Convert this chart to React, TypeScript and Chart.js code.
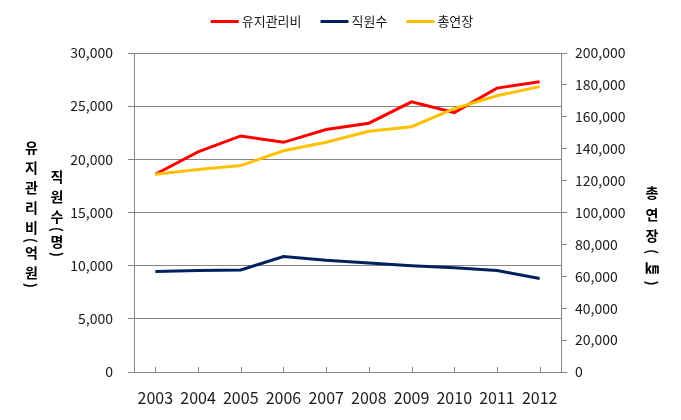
import React, { useEffect, useRef } from "react";
import { Chart, registerables } from "chart.js";

Chart.register(...registerables);

const categories = ["2003", "2004", "2005", "2006", "2007", "2008", "2009", "2010", "2011", "2012"];
const maintenanceCost = [18600, 20700, 22200, 21600, 22800, 23400, 25400, 24400, 26700, 27300];
const staffCount = [9450, 9550, 9600, 10850, 10500, 10250, 10000, 9800, 9550, 8800];
const totalLength = [124000, 127000, 129400, 138700, 144000, 150900, 153800, 165100, 173200, 178900];
const seriesNames = ["유지관리비", "직원수", "총연장"];
const seriesColors = ["#FF0000", "#002060", "#FFC000"];
const leftTitleA = ["유", "지", "관", "리", "비", "(", "억", "원", ")"];
const leftTitleB = ["직", "원", "수", "(", "명", ")"];
const rightTitle = ["총", "연", "장", "(", "㎞", ")"];

const FONT = "'Noto Sans CJK KR', 'Noto Sans', sans-serif";
const GRID = "#868686";
const TEXT = "#1a1a1a";

function drawVertical(ctx: CanvasRenderingContext2D, chars: string[], x: number, startY: number, step: number, parenStep: number) {
  let y = startY;
  let prev = 0;
  chars.forEach((c, i) => {
    const isParen = c === "(" || c === ")";
    const adv = isParen ? parenStep : step;
    if (i > 0) y += (prev + adv) / 2;
    if (isParen) {
      ctx.save();
      ctx.translate(x, y);
      ctx.rotate(Math.PI / 2);
      ctx.fillText(c, 0, 0);
      ctx.restore();
    } else {
      ctx.fillText(c, x, y);
    }
    prev = adv;
  });
}

const decorPlugin = {
  id: "decor",
  beforeDraw(chart: any) {
    const ctx = chart.ctx;
    ctx.save();
    ctx.fillStyle = "#ffffff";
    ctx.fillRect(0, 0, chart.width, chart.height);
    ctx.restore();
  },
  afterDraw(chart: any) {
    const ctx: CanvasRenderingContext2D = chart.ctx;
    const area = chart.chartArea;
    const xs = chart.scales.x;
    ctx.save();
    // inner x tick marks
    ctx.strokeStyle = GRID;
    ctx.lineWidth = 1;
    categories.forEach((_, i) => {
      const px = Math.round(xs.getPixelForTick(i)) + 0.5;
      ctx.beginPath();
      ctx.moveTo(px, area.bottom);
      ctx.lineTo(px, area.bottom - 5);
      ctx.stroke();
    });
    // vertical titles
    ctx.fillStyle = "#000";
    ctx.font = `bold 14px ${FONT}`;
    ctx.textAlign = "center";
    ctx.textBaseline = "middle";
    drawVertical(ctx, leftTitleA, 31.5, 148, 20, 5);
    drawVertical(ctx, leftTitleB, 57, 177, 20, 5);
    drawVertical(ctx, rightTitle, 652, 193, 21.5, 10);
    // legend
    ctx.font = `13px ${FONT}`;
    ctx.textAlign = "left";
    const lineLen = 28;
    const gapText = 3;
    const gapItem = 19;
    const widths = seriesNames.map((n) => lineLen + gapText + ctx.measureText(n).width);
    const total = widths.reduce((a, b) => a + b, 0) + gapItem * (seriesNames.length - 1);
    let x = 342 - total / 2;
    const ly = 21.5;
    seriesNames.forEach((n, i) => {
      ctx.strokeStyle = seriesColors[i];
      ctx.lineWidth = 3;
      ctx.beginPath();
      ctx.moveTo(x, ly);
      ctx.lineTo(x + lineLen, ly);
      ctx.stroke();
      ctx.fillStyle = TEXT;
      ctx.fillText(n, x + lineLen + gapText, ly);
      x += widths[i] + gapItem;
    });
    ctx.restore();
  },
};

export default function App() {
  const ref = useRef<HTMLCanvasElement | null>(null);
  useEffect(() => {
    if (!ref.current) return;
    const chart = new Chart(ref.current, {
      type: "line",
      data: {
        labels: categories,
        datasets: [
          {
            label: seriesNames[0],
            data: maintenanceCost,
            borderColor: seriesColors[0],
            backgroundColor: seriesColors[0],
            borderWidth: 3,
            pointRadius: 0,
            tension: 0,
            yAxisID: "y",
            order: 3,
          },
          {
            label: seriesNames[1],
            data: staffCount,
            borderColor: seriesColors[1],
            backgroundColor: seriesColors[1],
            borderWidth: 3,
            pointRadius: 0,
            tension: 0,
            yAxisID: "y",
            order: 2,
          },
          {
            label: seriesNames[2],
            data: totalLength,
            borderColor: seriesColors[2],
            backgroundColor: seriesColors[2],
            borderWidth: 3,
            pointRadius: 0,
            tension: 0,
            yAxisID: "y1",
            order: 1,
          },
        ],
      },
      options: {
        responsive: false,
        animation: false,
        layout: { padding: { top: 53, left: 0, right: 0, bottom: 0 } },
        plugins: {
          legend: { display: false },
          tooltip: { enabled: false },
          title: { display: false },
        },
        scales: {
          x: {
            type: "category",
            offset: true,
            grid: { display: false, drawTicks: false },
            border: { display: true, color: GRID, width: 1 },
            ticks: {
              padding: 16,
              color: TEXT,
              font: { family: FONT, size: 16 },
              maxRotation: 0,
              autoSkip: false,
            },
            afterFit: (s: any) => {
              s.height = 48;
            },
          },
          y: {
            type: "linear",
            position: "left",
            min: 0,
            max: 30000,
            grid: { color: GRID, lineWidth: 1, drawTicks: true, tickLength: 6 },
            border: { display: true, color: GRID, width: 1 },
            ticks: {
              stepSize: 5000,
              padding: 15,
              color: TEXT,
              font: { family: FONT, size: 14 },
              callback: (v: any) => Number(v).toLocaleString("en-US"),
            },
            afterFit: (s: any) => {
              s.width = 134;
            },
          },
          y1: {
            type: "linear",
            position: "right",
            min: 0,
            max: 200000,
            grid: { drawOnChartArea: false, color: GRID, lineWidth: 1, drawTicks: true, tickLength: 6 },
            border: { display: true, color: GRID, width: 1 },
            ticks: {
              stepSize: 20000,
              padding: 8,
              color: TEXT,
              font: { family: FONT, size: 14 },
              callback: (v: any) => Number(v).toLocaleString("en-US"),
            },
            afterFit: (s: any) => {
              s.width = 120;
            },
          },
        },
      },
      plugins: [decorPlugin],
    });
    return () => chart.destroy();
  }, []);
  return (
    <div style={{ position: "absolute", left: 0, top: 0, width: 681, height: 420 }}>
      <canvas ref={ref} width={681} height={420} style={{ display: "block", width: 681, height: 420 }} />
    </div>
  );
}
